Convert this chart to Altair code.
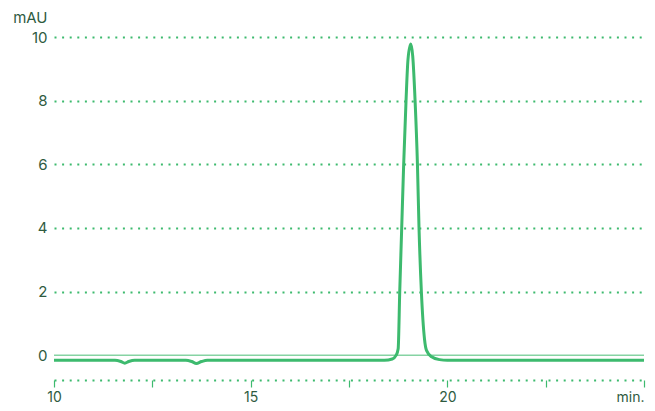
import altair as alt
import pandas as pd

# Chromatogram trace (time in min, signal in mAU)
times = [10.0, 11.55, 11.7, 11.8, 11.9, 12.05, 13.35, 13.5, 13.62, 13.75, 13.9,
         18.4, 18.6, 18.7, 18.75, 18.79, 18.84, 18.89, 18.95, 19.0, 19.07,
         19.12, 19.18, 19.24, 19.28, 19.34, 19.42, 19.47, 19.6, 19.8, 20.0, 25.0]
signal = [-0.16, -0.16, -0.2, -0.25, -0.2, -0.16, -0.16, -0.2, -0.26, -0.2, -0.16,
          -0.16, -0.12, 0.0, 0.2, 2.0, 4.0, 6.0, 8.0, 9.3, 9.78,
          9.4, 8.0, 6.0, 4.0, 2.0, 0.5, 0.15, -0.05, -0.14, -0.16, -0.16]

x_ticks = [10, 12.5, 15, 17.5, 20, 22.5, 25]
y_ticks = [0, 2, 4, 6, 8, 10]

trace = pd.DataFrame({"t": times, "v": signal})
zero = pd.DataFrame({"v": [0]})

GREEN = "#3dba6e"
TEXT = "#2f5b3f"
FONT = "Inter"

label_expr = ("datum.value == 10 ? '10' : datum.value == 15 ? '15' : "
              "datum.value == 20 ? '20' : datum.value == 25 ? 'min.' : ''")

x_scale = alt.Scale(domain=[10, 25], nice=False)
y_scale = alt.Scale(domain=[-0.78, 10], nice=False)

x_axis = alt.Axis(
    values=x_ticks, labelExpr=label_expr, title=None, grid=False,
    domainColor=GREEN, domainDash=[2, 5.6], domainWidth=2,
    tickColor=GREEN, tickSize=7, tickWidth=1.2,
    labelColor=TEXT, labelFont=FONT, labelFontSize=14, labelPadding=3,
    labelAlign={"condition": {"test": "datum.value == 25", "value": "right"}, "value": "center"},
)
y_axis = alt.Axis(
    values=y_ticks, title="mAU", titleAngle=0, titleAlign="right",
    titleBaseline="alphabetic", titleX=-7, titleY=-15,
    titleColor=TEXT, titleFont=FONT, titleFontSize=15, titleFontWeight="normal",
    domain=False, ticks=False, grid=True,
    gridColor={"condition": {"test": "datum.value == 0", "value": "transparent"}, "value": GREEN},
    gridDash=[2, 5.6], gridWidth=2,
    labelColor=TEXT, labelFont=FONT, labelFontSize=15, labelPadding=7,
)

zero_line = alt.Chart(zero).mark_rule(color="#86d3a3", strokeWidth=1.5).encode(
    y=alt.Y("v:Q", scale=y_scale, axis=y_axis)
)

line = alt.Chart(trace).mark_line(color=GREEN, strokeWidth=3, interpolate="monotone").encode(
    x=alt.X("t:Q", scale=x_scale, axis=x_axis),
    y=alt.Y("v:Q", scale=y_scale),
)

chart = alt.layer(zero_line, line).properties(
    width=590, height=343,
    autosize="none",
    padding={"left": 46, "top": 29, "right": 3, "bottom": 23},
).configure_view(stroke=None)

chart.save("out.html", embed_options={"renderer": "svg", "actions": False})
